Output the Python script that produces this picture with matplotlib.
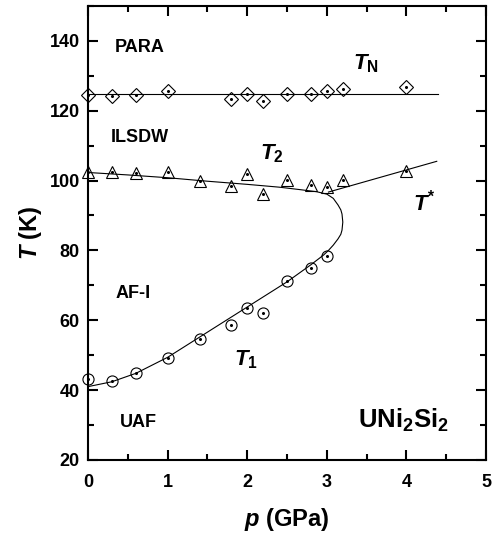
import numpy as np
import matplotlib.pyplot as plt
from matplotlib.ticker import MultipleLocator

plt.rcParams['font.family'] = ['Liberation Sans', 'DejaVu Sans']
plt.rcParams['mathtext.fontset'] = 'custom'
plt.rcParams['mathtext.rm'] = 'Liberation Sans:bold'
plt.rcParams['mathtext.it'] = 'Liberation Sans:bold:italic'
plt.rcParams['mathtext.bf'] = 'Liberation Sans:bold'

# T_N (diamonds)
p_N = [0, 0.3, 0.6, 1.0, 1.8, 2.0, 2.2, 2.5, 2.8, 3.0, 3.2, 4.0]
T_N = [124.6, 124.3, 124.6, 125.7, 123.3, 124.8, 122.9, 124.8, 124.8, 125.7, 126.2, 126.7]
p_N_line = [0, 4.4]
T_N_line = [124.8, 124.8]

# T_2 / T* (triangles)
p_2 = [0, 0.3, 0.6, 1.0, 1.4, 1.8, 2.0, 2.2, 2.5, 2.8, 3.0, 3.2, 4.0]
T_2 = [102.4, 102.4, 102.2, 102.4, 100.0, 98.3, 101.9, 96.2, 100.2, 98.6, 98.1, 100.2, 102.7]

# T_1 (circles)
p_1 = [0, 0.3, 0.6, 1.0, 1.4, 1.8, 2.0, 2.2, 2.5, 2.8, 3.0]
T_1 = [43.1, 42.7, 44.9, 49.3, 54.5, 58.6, 63.6, 62.2, 71.2, 75.1, 78.3]

# boundary curve T_2 -> nose -> T_1
p_curve = [0, 0.5, 1.0, 1.5, 2.0, 2.4, 2.66, 2.87, 3.0, 3.08, 3.14, 3.175, 3.19,
           3.2, 3.19, 3.175, 3.14, 3.08, 3.02, 2.96, 2.8, 2.5, 2.0, 1.5, 1.0,
           0.6, 0.3, 0]
T_curve = [102.3, 101.6, 100.8, 99.8, 98.9, 98.1, 97.4, 96.8, 96.1, 94.9, 93.0, 91.6, 90.4,
           88.1, 85.8, 84.6, 83.3, 81.5, 80.0, 78.7, 75.9, 71.0, 63.8, 56.6, 49.4,
           44.8, 42.4, 41.0]

# T* line
p_star = [3.02, 4.38]
T_star = [96.7, 105.5]

fig = plt.figure(figsize=(4.92, 5.33), dpi=100)
ax = fig.add_axes([0.179, 0.137, 0.809, 0.852])

lw = 0.8
ax.plot(p_N_line, T_N_line, color='black', lw=lw)
ax.plot(p_curve, T_curve, color='black', lw=lw)
ax.plot(p_star, T_star, color='black', lw=lw)

mk = dict(mfc='none', mec='black', mew=0.8, ls='none', clip_on=False)
ax.plot(p_N, T_N, marker='D', ms=7, **mk)
ax.plot(p_2, T_2, marker='^', ms=8, **mk)
ax.plot(p_1, T_1, marker='o', ms=8, **mk)
for px, ty in [(p_N, T_N), (p_2, T_2), (p_1, T_1)]:
    ax.plot(px, ty, marker='o', ms=1.2, color='black', ls='none', clip_on=False)

ax.set_xlim(0, 5)
ax.set_ylim(20, 150)
ax.xaxis.set_major_locator(MultipleLocator(1))
ax.xaxis.set_minor_locator(MultipleLocator(0.5))
ax.yaxis.set_minor_locator(MultipleLocator(10))
ax.set_yticks([20, 40, 60, 80, 100, 120, 140])
ax.tick_params(which='both', direction='in', top=True, right=True, width=1.5)
ax.tick_params(which='major', length=7, labelsize=13)
ax.tick_params(axis='x', which='major', pad=10)
ax.tick_params(axis='y', which='major', pad=6)
ax.tick_params(which='minor', length=4)
for lab in ax.get_xticklabels() + ax.get_yticklabels():
    lab.set_fontweight('bold')
for s in ax.spines.values():
    s.set_linewidth(1.5)

ax.set_xlabel(r'$p$ (GPa)', fontsize=17, fontweight='bold', labelpad=11)
ax.set_ylabel(r'$T$ (K)', fontsize=17, fontweight='bold', labelpad=4)

tk = dict(fontsize=13, fontweight='bold', va='center', ha='left')
ax.text(0.34, 138, 'PARA', **tk)
ax.text(0.28, 112.4, 'ILSDW', **tk)
ax.text(0.34, 67.7, 'AF-I', **tk)
ax.text(0.4, 30.6, 'UAF', **tk)
ax.text(3.33, 133.4, r'$T_\mathrm{N}$', fontsize=16, va='center', ha='left')
ax.text(2.16, 107.7, r'$T_2$', fontsize=16, va='center', ha='left')
ax.text(4.08, 93.8, r'$T^{*}$', fontsize=16, va='center', ha='left')
ax.text(1.83, 48.6, r'$T_1$', fontsize=16, va='center', ha='left')
ax.text(3.39, 31.4, r'UNi$_2$Si$_2$', fontsize=18.5, fontweight='bold', va='center', ha='left')

fig.savefig('out.png', dpi=100)
